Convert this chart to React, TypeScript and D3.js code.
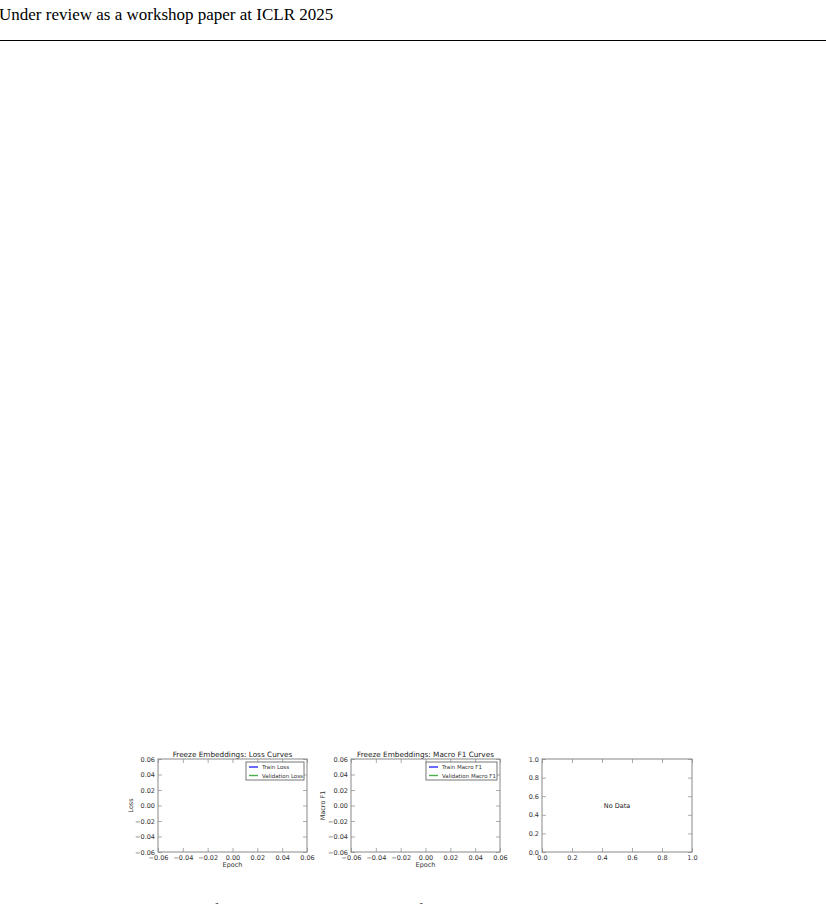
import { useEffect, useRef } from "react"
import * as d3 from "d3"

// logged values (the run produced no points)
const epochs: number[] = []
const trainLoss: number[] = []
const valLoss: number[] = []
const trainF1: number[] = []
const valF1: number[] = []

const emptyTicks = [-0.06, -0.04, -0.02, 0.0, 0.02, 0.04, 0.06]
const unitTicks = [0.0, 0.2, 0.4, 0.6, 0.8, 1.0]

const lossSeries = ["Train Loss", "Validation Loss"]
const f1Series = ["Train Macro F1", "Validation Macro F1"]
const seriesColors = ["#2a2aff", "#4caf4c"]

const headerText = "Under review as a workshop paper at ICLR 2025"
const captionText =
  "Figure 4: The Loss (left) and Macro F1 (middle) curves for the Freeze Embeddings run; no data was recorded (right)."

const FONT = "'DejaVu Sans', sans-serif"

export default function App() {
  const svgRef = useRef<SVGSVGElement | null>(null)

  useEffect(() => {
    if (!svgRef.current) return
    const root = d3.select(svgRef.current)
    root.selectAll("*").remove()

    // page header
    root
      .append("text")
      .attr("x", -1)
      .attr("y", 20)
      .attr("font-family", "'Liberation Serif', 'Times New Roman', serif")
      .attr("font-size", 17)
      .attr("fill", "#000")
      .text(headerText)
    root.append("line").attr("x1", 0).attr("x2", 826).attr("y1", 40.5).attr("y2", 40.5).attr("stroke", "#000").attr("stroke-width", 1)

    // caption, cut off by the page bottom
    root
      .append("text")
      .attr("x", 80)
      .attr("y", 914)
      .attr("font-family", "'Liberation Serif', 'Times New Roman', serif")
      .attr("font-size", 15)
      .attr("fill", "#000")
      .text(captionText)

    const fmt = d3.format(".2f")
    const fmt1 = d3.format(".1f")

    function panel(opts: {
      left: number
      right: number
      top: number
      bottom: number
      xDomain: [number, number]
      yDomain: [number, number]
      ticks: number[]
      format: (v: number) => string
      title?: string
      xLabel?: string
      yLabel?: string
      yLabelX?: number
      series?: { name: string; ys: number[] }[]
      legendX?: number
      legendW?: number
      note?: string
    }) {
      const x = d3.scaleLinear().domain(opts.xDomain).range([opts.left, opts.right])
      const y = d3.scaleLinear().domain(opts.yDomain).range([opts.bottom, opts.top])
      const g = root.append("g")

      const style = (sel: any) => {
        sel.select(".domain").remove()
        sel.selectAll("line").attr("stroke", "#888").attr("stroke-width", 0.7)
        sel.selectAll("text").attr("font-family", FONT).attr("font-size", 6.5).attr("fill", "#333")
      }

      g.append("g")
        .attr("transform", `translate(0,${opts.bottom})`)
        .call(d3.axisBottom(x).tickValues(opts.ticks).tickFormat((d) => opts.format(d as number)).tickSizeInner(-4).tickSizeOuter(0).tickPadding(3))
        .call(style)
      g.append("g")
        .attr("transform", `translate(${opts.left},0)`)
        .call(d3.axisLeft(y).tickValues(opts.ticks).tickFormat((d) => opts.format(d as number)).tickSizeInner(-4).tickSizeOuter(0).tickPadding(3))
        .call(style)
      g.append("g")
        .attr("transform", `translate(0,${opts.top})`)
        .call(d3.axisTop(x).tickValues(opts.ticks).tickFormat(() => "").tickSizeInner(-4).tickSizeOuter(0))
        .call(style)
      g.append("g")
        .attr("transform", `translate(${opts.right},0)`)
        .call(d3.axisRight(y).tickValues(opts.ticks).tickFormat(() => "").tickSizeInner(-4).tickSizeOuter(0))
        .call(style)

      // frame
      g.append("rect")
        .attr("x", opts.left)
        .attr("y", opts.top)
        .attr("width", opts.right - opts.left)
        .attr("height", opts.bottom - opts.top)
        .attr("fill", "none")
        .attr("stroke", "#888")
        .attr("stroke-width", 1)

      // curves
      const line = d3
        .line<number>()
        .x((_, i) => x(epochs[i]))
        .y((d) => y(d))
      ;(opts.series || []).forEach((s, i) => {
        g.append("path").attr("d", line(s.ys) || "").attr("fill", "none").attr("stroke", seriesColors[i]).attr("stroke-width", 1)
      })

      if (opts.title) {
        g.append("text")
          .attr("x", (opts.left + opts.right) / 2)
          .attr("y", opts.top - 2)
          .attr("text-anchor", "middle")
          .attr("font-family", FONT)
          .attr("font-size", 7.3)
          .attr("fill", "#222")
          .text(opts.title)
      }
      if (opts.xLabel) {
        g.append("text")
          .attr("x", (opts.left + opts.right) / 2)
          .attr("y", opts.bottom + 15)
          .attr("text-anchor", "middle")
          .attr("font-family", FONT)
          .attr("font-size", 6.5)
          .attr("fill", "#333")
          .text(opts.xLabel)
      }
      if (opts.yLabel) {
        const cy = (opts.top + opts.bottom) / 2
        g.append("text")
          .attr("transform", `translate(${opts.yLabelX},${cy}) rotate(-90)`)
          .attr("text-anchor", "middle")
          .attr("font-family", FONT)
          .attr("font-size", 6.5)
          .attr("fill", "#333")
          .text(opts.yLabel)
      }
      if (opts.series && opts.legendX !== undefined) {
        const lx = opts.legendX
        const ly = opts.top + 3
        const lw = opts.legendW || 60
        g.append("rect")
          .attr("x", lx)
          .attr("y", ly)
          .attr("width", lw)
          .attr("height", 18)
          .attr("fill", "#fff")
          .attr("stroke", "#555")
          .attr("stroke-width", 0.8)
        opts.series.forEach((s, i) => {
          const yy = ly + 5 + i * 8.5
          g.append("line")
            .attr("x1", lx + 3)
            .attr("x2", lx + 12)
            .attr("y1", yy)
            .attr("y2", yy)
            .attr("stroke", seriesColors[i])
            .attr("stroke-width", 1.4)
          g.append("text")
            .attr("x", lx + 16)
            .attr("y", yy + 2)
            .attr("font-family", FONT)
            .attr("font-size", 5.5)
            .attr("fill", "#333")
            .text(s.name)
        })
      }
      if (opts.note) {
        g.append("text")
          .attr("x", (opts.left + opts.right) / 2)
          .attr("y", (opts.top + opts.bottom) / 2 + 2)
          .attr("text-anchor", "middle")
          .attr("font-family", FONT)
          .attr("font-size", 6.5)
          .attr("fill", "#222")
          .text(opts.note)
      }
    }

    panel({
      left: 158,
      right: 307,
      top: 759,
      bottom: 852,
      xDomain: [-0.06, 0.06],
      yDomain: [-0.06, 0.06],
      ticks: emptyTicks,
      format: fmt,
      title: "Freeze Embeddings: Loss Curves",
      xLabel: "Epoch",
      yLabel: "Loss",
      yLabelX: 133,
      series: [
        { name: lossSeries[0], ys: trainLoss },
        { name: lossSeries[1], ys: valLoss },
      ],
      legendX: 246,
      legendW: 58,
    })

    panel({
      left: 351,
      right: 500,
      top: 759,
      bottom: 852,
      xDomain: [-0.06, 0.06],
      yDomain: [-0.06, 0.06],
      ticks: emptyTicks,
      format: fmt,
      title: "Freeze Embeddings: Macro F1 Curves",
      xLabel: "Epoch",
      yLabel: "Macro F1",
      yLabelX: 325,
      series: [
        { name: f1Series[0], ys: trainF1 },
        { name: f1Series[1], ys: valF1 },
      ],
      legendX: 426,
      legendW: 71,
    })

    panel({
      left: 542,
      right: 692,
      top: 759,
      bottom: 852,
      xDomain: [0, 1],
      yDomain: [0, 1],
      ticks: unitTicks,
      format: fmt1,
      note: "No Data",
    })
  }, [])

  return (
    <svg
      ref={svgRef}
      width={826}
      height={904}
      style={{ position: "absolute", left: 0, top: 0, background: "#fff" }}
    />
  )
}
